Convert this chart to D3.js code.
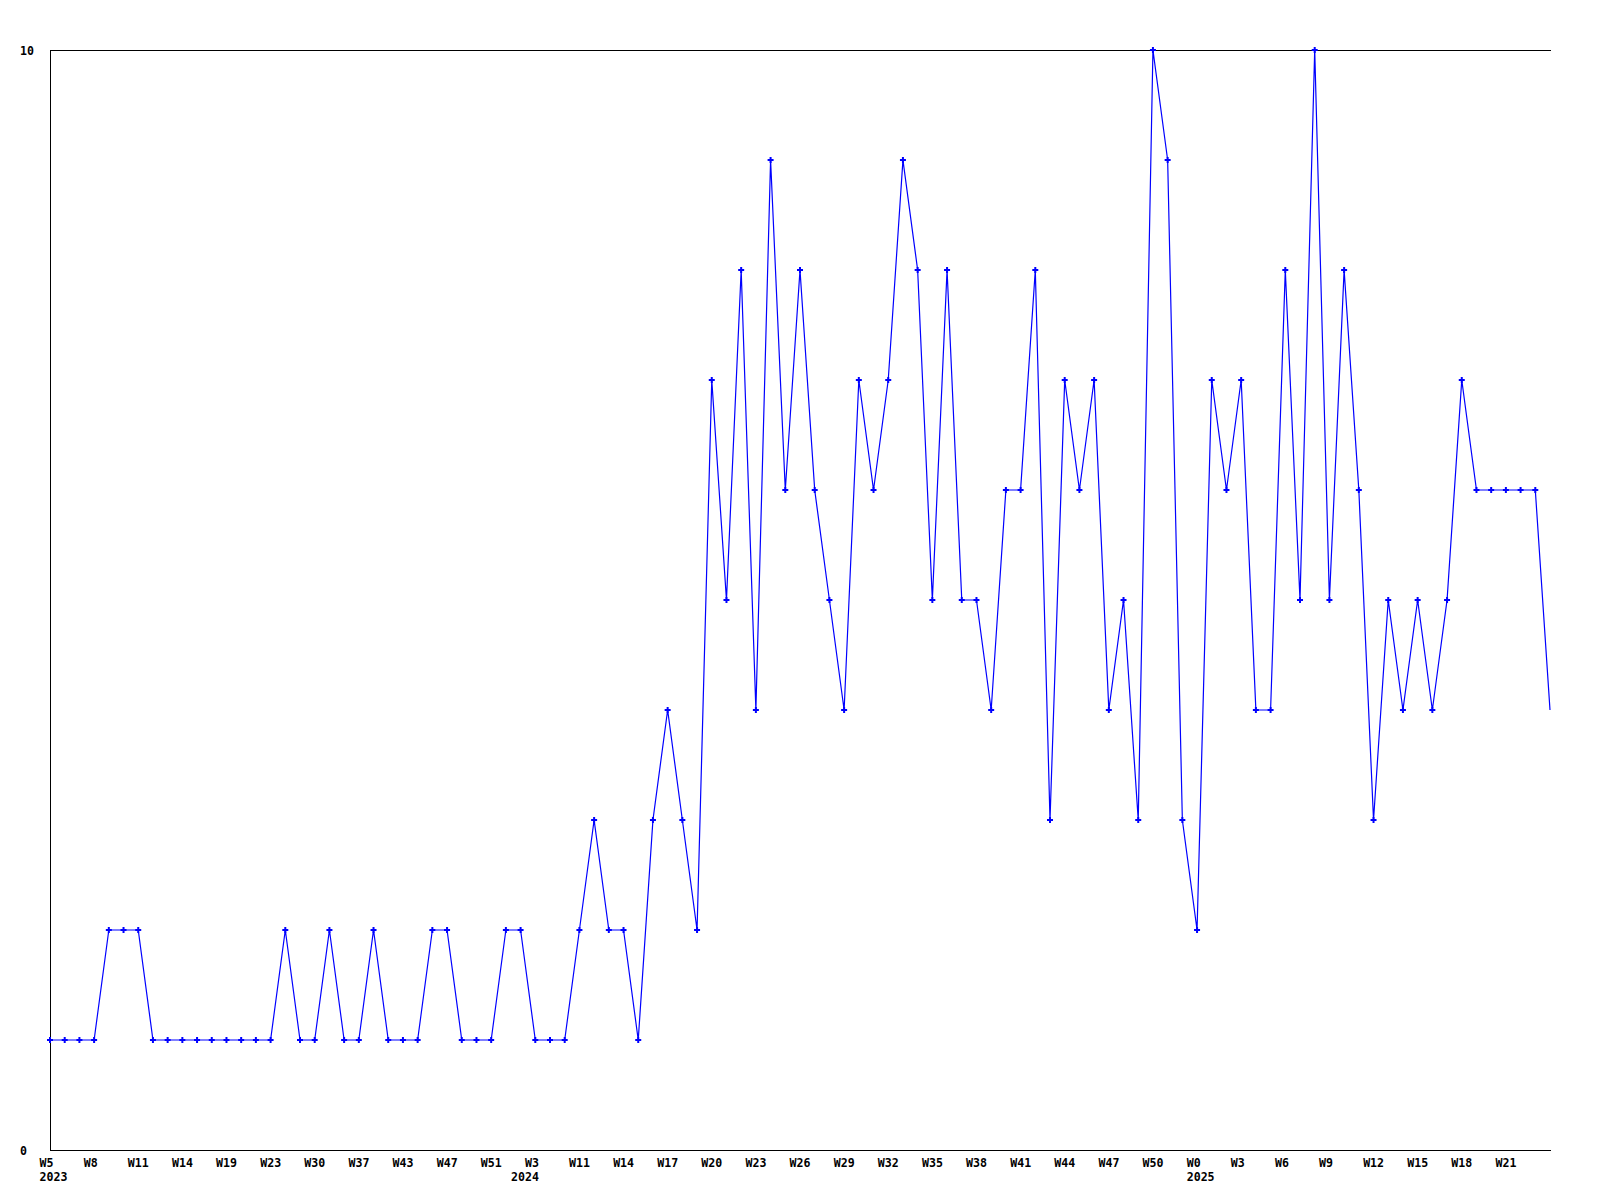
<!DOCTYPE html>
<html>
<head>
<meta charset="utf-8">
<script src="https://cdn.jsdelivr.net/npm/d3@7"></script>
<style>
  html, body { margin: 0; padding: 0; background: #ffffff; }
  svg text { font-family: "DejaVu Sans Mono", "Liberation Mono", monospace; font-weight: bold; font-size: 11.6px; fill: #000; }
</style>
</head>
<body>
<svg id="chart" width="1600" height="1200"></svg>
<script>
// Weekly counts, one value per week point (103 points)
const values = [
  1,1,1,1,2,2,2,1,1,1,1,1,1,1,1,1,2,1,1,2,1,1,2,1,1,1,2,2,1,1,1,2,2,1,1,1,
  2,3,2,2,1,3,4,3,2,7,5,8,4,9,6,8,6,5,4,7,6,7,9,8,5,8,5,5,4,6,6,8,3,7,6,7,
  4,5,3,10,9,3,2,7,6,7,4,4,8,5,10,5,8,6,3,5,4,5,4,5,7,6,6,6,6,6,4
];
// Tick labels, one every third point
const weekLabels = ["W5","W8","W11","W14","W19","W23","W30","W37","W43","W47","W51",
  "W3","W11","W14","W17","W20","W23","W26","W29","W32","W35","W38","W41","W44","W47","W50",
  "W0","W3","W6","W9","W12","W15","W18","W21"];
const yearLabels = ["2023","","","","","","","","","","",
  "2024","","","","","","","","","","","","","","",
  "2025","","","","","","",""];
const yTickValues = [0, 10];
const labelStep = 3;

(function () {
const svg = d3.select("#chart");
const mLeft = 50, mRight = 1550, mTop = 50, mBottom = 1150;

const x = d3.scaleLinear().domain([0, values.length - 1]).range([mLeft, mRight]);
const y = d3.scaleLinear().domain([0, 10]).range([mBottom, mTop]);

// frame: left axis, top line, bottom axis
svg.append("line").attr("x1", mLeft + 0.5).attr("x2", mLeft + 0.5).attr("y1", mTop).attr("y2", mBottom + 1)
  .attr("stroke", "#000").attr("stroke-width", 1);
svg.append("line").attr("x1", mLeft).attr("x2", mRight + 1).attr("y1", mTop + 0.5).attr("y2", mTop + 0.5)
  .attr("stroke", "#000").attr("stroke-width", 1);
svg.append("line").attr("x1", mLeft).attr("x2", mRight + 1).attr("y1", mBottom + 0.5).attr("y2", mBottom + 0.5)
  .attr("stroke", "#000").attr("stroke-width", 1);

// y labels
svg.selectAll("text.ylab").data(yTickValues).join("text")
  .attr("class", "ylab")
  .attr("x", 20)
  .attr("y", d => y(d) + 4.5)
  .attr("text-anchor", "start")
  .text(d => d);

// x labels
const xl = svg.selectAll("g.xlab").data(weekLabels).join("g")
  .attr("class", "xlab")
  .attr("transform", (d, i) => `translate(${x(i * labelStep)},0)`);
xl.append("text")
  .attr("class", "wk")
  .attr("x", -10.4)
  .attr("y", 1167)
  .attr("text-anchor", "start")
  .text(d => d);
xl.each(function(d, i) {
  const yr = yearLabels[i];
  if (!yr) return;
  const g = d3.select(this);
  const wk = g.select("text.wk").node();
  const bb = wk.getBBox();
  const alignEnd = yr === "2024";
  g.append("text")
    .attr("x", alignEnd ? bb.x + bb.width : -10.4)
    .attr("y", 1181)
    .attr("text-anchor", alignEnd ? "end" : "start")
    .text(yr);
});

// line
const line = d3.line().x((d, i) => x(i)).y(d => y(d));
svg.append("path").datum(values)
  .attr("d", line)
  .attr("fill", "none")
  .attr("stroke", "#0000ff")
  .attr("stroke-width", 1.2);

// markers
const sym = d3.symbol().type(d3.symbolCross).size(20);
svg.selectAll("path.mk").data(values.map((v, i) => ({v, i})).filter(d => x(d.i) < mRight))
  .join("path")
  .attr("class", "mk")
  .attr("transform", d => `translate(${x(d.i)},${y(d.v)})`)
  .attr("d", sym)
  .attr("fill", "#0000ff");
})();
</script>
</body>
</html>
